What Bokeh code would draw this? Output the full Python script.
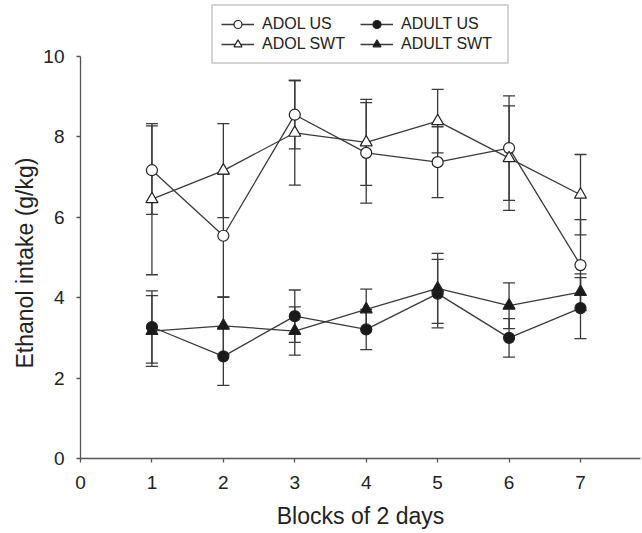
from bokeh.plotting import figure
from bokeh.models import ColumnDataSource, Whisker, TeeHead, Legend, LegendItem, Range1d, FixedTicker, Title
from bokeh.embed import file_html
from bokeh.resources import INLINE

# ---- data ----
blocks = [1, 2, 3, 4, 5, 6, 7]
adol_us = [7.17, 5.54, 8.55, 7.60, 7.37, 7.72, 4.81]
adol_us_err = [1.10, 1.53, 0.85, 1.25, 0.88, 1.30, 1.13]
adol_swt = [6.45, 7.16, 8.10, 7.86, 8.39, 7.47, 6.56]
adol_swt_err = [1.88, 1.17, 1.30, 1.07, 0.79, 1.30, 1.00]
adult_us = [3.27, 2.54, 3.54, 3.21, 4.10, 3.00, 3.74]
adult_us_err = [0.90, 0.72, 0.65, 0.50, 0.85, 0.48, 0.76]
adult_swt = [3.17, 3.30, 3.17, 3.71, 4.23, 3.80, 4.14]
adult_swt_err = [0.88, 0.72, 0.60, 0.50, 0.87, 0.57, 0.45]
x_ticks = [0, 1, 2, 3, 4, 5, 6, 7]
y_ticks = [0, 2, 4, 6, 8, 10]
series_names = ["ADOL US", "ADOL SWT", "ADULT US", "ADULT SWT"]
y_label = "Ethanol intake (g/kg)"
x_label = "Blocks of 2 days"

FONT = "Liberation Sans"
LINE = "#3a3a3a"

p = figure(width=642, height=533, output_backend="svg", toolbar_location=None,
           x_range=Range1d(0, 7.84), y_range=Range1d(0, 11.39),
           min_border_left=80, min_border_right=2, min_border_top=0, min_border_bottom=75)
p.outline_line_color = None
p.xgrid.visible = False
p.ygrid.visible = False
p.background_fill_color = "white"

series = [
    (series_names[0], adol_us, adol_us_err, "circle", "white"),
    (series_names[1], adol_swt, adol_swt_err, "triangle", "white"),
    (series_names[2], adult_us, adult_us_err, "circle", "#1a1a1a"),
    (series_names[3], adult_swt, adult_swt_err, "triangle", "#1a1a1a"),
]

items = {}
line_rs = []
for name, vals, errs, marker, fill in series:
    src = ColumnDataSource(dict(x=blocks, y=vals,
                                upper=[v + e for v, e in zip(vals, errs)],
                                lower=[v - e for v, e in zip(vals, errs)]))
    lr = p.line("x", "y", source=src, line_color=LINE, line_width=1.3)
    w = Whisker(source=src, base="x", upper="upper", lower="lower", dimension="height",
                line_color=LINE, line_width=1.3,
                upper_head=TeeHead(size=12, line_color=LINE, line_width=1.3),
                lower_head=TeeHead(size=12, line_color=LINE, line_width=1.3))
    p.add_layout(w)
    line_rs.append((name, lr, src, marker, fill))

for name, lr, src, marker, fill in line_rs:
    sr = p.scatter("x", "y", source=src, marker=marker, size=11 if marker == "circle" else 12,
                   fill_color=fill, line_color="#222222", line_width=1.2)
    items[name] = LegendItem(label=name, renderers=[lr, sr])

legend = Legend(items=[items[n] for n in series_names], location="top_center",
                orientation="vertical", nrows=2,
                label_text_font=FONT, label_text_font_size="16px", label_text_color="#222222",
                glyph_width=33, glyph_height=20, label_height=20, label_width=98,
                label_standoff=8, padding=8, spacing=0, margin=4,
                border_line_color="#aaaaaa", border_line_width=2,
                background_fill_alpha=1.0)
p.add_layout(legend, "center")

for ax in (p.xaxis[0], p.yaxis[0]):
    ax.axis_line_color = "#555555"
    ax.axis_line_width = 1.3
    ax.major_tick_line_color = "#555555"
    ax.major_tick_line_width = 1.3
    ax.major_tick_out = 4
    ax.major_tick_in = 0
    ax.minor_tick_line_color = None
    ax.major_label_text_font = FONT
    ax.major_label_text_font_size = "19px"
    ax.major_label_text_color = "#222222"
    ax.axis_label_text_font = FONT
    ax.axis_label_text_font_size = "23px"
    ax.axis_label_text_font_style = "normal"
    ax.axis_label_text_color = "#222222"

p.xaxis.ticker = FixedTicker(ticks=x_ticks)
p.yaxis.ticker = FixedTicker(ticks=y_ticks)
p.yaxis.bounds = (0, 10)
p.xaxis.axis_label = x_label
p.xaxis.major_label_standoff = 13
p.yaxis.major_label_standoff = 12
p.xaxis.axis_label_standoff = 11

# y-axis label as a side title so it can be centred on the 0-10 span
ytitle = Title(text=y_label, align="left", offset=90, standoff=5,
               text_font=FONT, text_font_size="23px", text_font_style="normal",
               text_color="#222222")
p.add_layout(ytitle, "left")

open("out.html", "w").write(file_html(p, INLINE))
